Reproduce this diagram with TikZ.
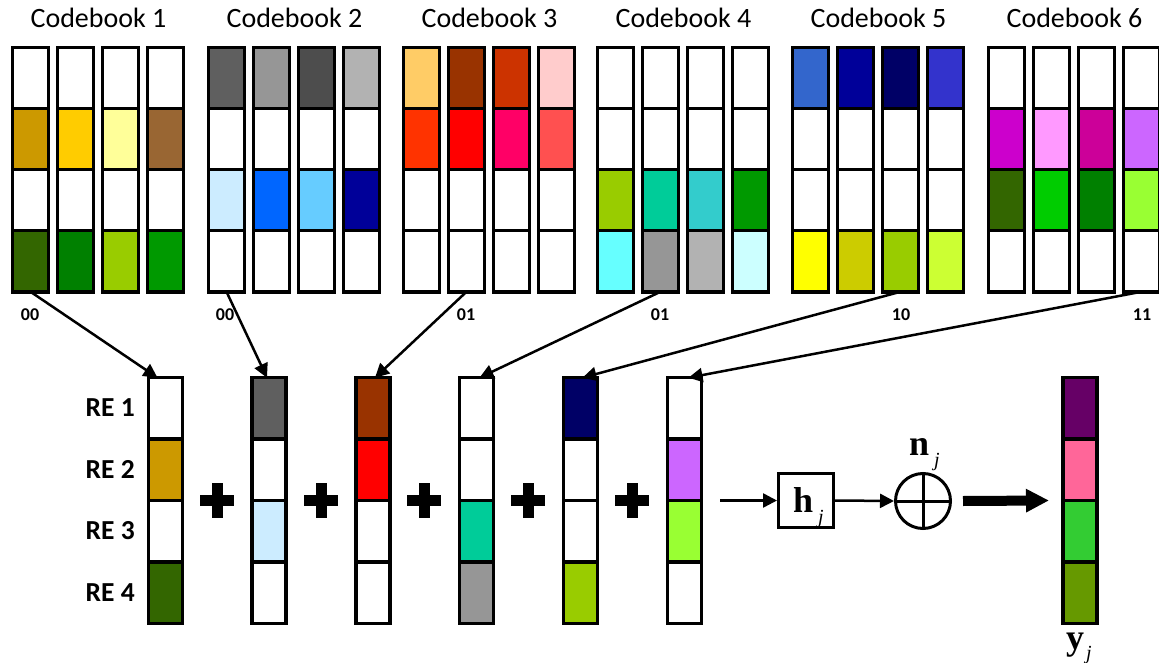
\documentclass[tikz,border=0pt]{standalone}
\usepackage{fontspec}
\setmainfont{Carlito}
\newfontfamily\tnr{Liberation Serif}
\usetikzlibrary{arrows.meta,calc}

\newcommand\drawcb[3]{%
  \foreach \h [count=\i from 0] in {#3}{%
    \pgfmathtruncatemacro\rowi{div(\i,4)+1}%
    \pgfmathtruncatemacro\coli{mod(\i,4)+1}%
    \edef\tmpdef{\noexpand\definecolor{cellc}{HTML}{\h}}\tmpdef
    \node[cell,fill=cellc] (cb#1-\coli-\rowi) at ({30.5+#2+45*(\coli-1)},{78.25+61*(\rowi-1)}) {};
  }%
}
\newcommand\drawcol[3]{%
  \foreach \h [count=\i] in {#3}{%
    \edef\tmpdef{\noexpand\definecolor{cellc}{HTML}{\h}}\tmpdef
    \node[lcell,fill=cellc] (#1-\i) at (#2,{408.4+61.4*(\i-1)}) {};
  }%
}

\begin{document}
\begin{tikzpicture}[x=1pt,y=-1pt,
  cell/.style={draw, line width=3.5pt, minimum width=36pt, minimum height=61pt, inner sep=0pt, outer sep=0pt},
  lcell/.style={cell, minimum width=34pt, minimum height=61.4pt},
  title/.style={font=\fontsize{28}{30}\selectfont, anchor=base, inner sep=0pt},
  bits/.style={font=\bfseries\fontsize{18}{20}\selectfont, anchor=base, inner sep=0pt},
  relab/.style={font=\bfseries\fontsize{27.5}{30}\selectfont, anchor=base east, inner sep=0pt},
  arr/.style={line width=2.5pt, -{Triangle[length=14pt,width=14pt]}},
  plus/.style={line width=11pt},
  bigsym/.style={font=\tnr\bfseries\fontsize{36}{36}\selectfont, anchor=base west, inner sep=0pt},
  subj/.style={font=\tnr\itshape\fontsize{20}{20}\selectfont, anchor=base west, inner sep=0pt},
]
\useasboundingbox (0,0) rectangle (1159,663);

% codebooks
\drawcb{1}{0}{FFFFFF,FFFFFF,FFFFFF,FFFFFF,CC9900,FFCC00,FFFF99,996633,FFFFFF,FFFFFF,FFFFFF,FFFFFF,336600,008000,99CC00,009900}
\drawcb{2}{196}{5F5F5F,969696,4D4D4D,B2B2B2,FFFFFF,FFFFFF,FFFFFF,FFFFFF,CCECFF,0066FF,66CCFF,000099,FFFFFF,FFFFFF,FFFFFF,FFFFFF}
\drawcb{3}{391}{FFCC66,993300,CC3300,FFCCCC,FF3300,FF0000,FF0066,FF5050,FFFFFF,FFFFFF,FFFFFF,FFFFFF,FFFFFF,FFFFFF,FFFFFF,FFFFFF}
\drawcb{4}{585}{FFFFFF,FFFFFF,FFFFFF,FFFFFF,FFFFFF,FFFFFF,FFFFFF,FFFFFF,99CC00,00CC99,33CCCC,009900,66FFFF,969696,B2B2B2,CCFFFF}
\drawcb{5}{780}{3366CC,000099,000066,3333CC,FFFFFF,FFFFFF,FFFFFF,FFFFFF,FFFFFF,FFFFFF,FFFFFF,FFFFFF,FFFF00,CCCC00,99CC00,CCFF33}
\drawcb{6}{976}{FFFFFF,FFFFFF,FFFFFF,FFFFFF,CC00CC,FF99FF,CC0099,CC66FF,336600,00CC00,008000,99FF33,FFFFFF,FFFFFF,FFFFFF,FFFFFF}

% titles
\foreach \k/\dx in {1/0,2/196,3/391,4/585,5/780,6/976}
  \node[title] (t\k) at ({98.5+\dx},28) {Codebook \k};

% bit labels
\node[bits] (b1) at (30,320) {00};
\node[bits] (b2) at (225,320) {00};
\node[bits] (b3) at (466,320) {01};
\node[bits] (b4) at (660,320) {01};
\node[bits] (b5) at (901,320) {10};
\node[bits] (b6) at (1142,320) {11};

% lower columns
\drawcol{l1}{165.5}{FFFFFF,CC9900,FFFFFF,336600}
\drawcol{l2}{269}{5F5F5F,FFFFFF,CCECFF,FFFFFF}
\drawcol{l3}{373}{993300,FF0000,FFFFFF,FFFFFF}
\drawcol{l4}{476.5}{FFFFFF,FFFFFF,00CC99,969696}
\drawcol{l5}{580.5}{000066,FFFFFF,FFFFFF,99CC00}
\drawcol{l6}{684.5}{FFFFFF,CC66FF,99FF33,FFFFFF}
\drawcol{f}{1080}{660066,FF6699,33CC33,669900}

% RE labels
\node[relab] (re1) at (135,416) {RE 1};
\node[relab] (re2) at (135,478) {RE 2};
\node[relab] (re3) at (135,539) {RE 3};
\node[relab] (re4) at (135,601) {RE 4};

% selection arrows
\draw[arr] (cb1-1-4.south) -- ([xshift=-8pt]l1-1.north);
\draw[arr] (cb2-1-4.south) -- ([xshift=-2pt]l2-1.north);
\draw[arr] (cb3-2-4.south) -- ([xshift=2pt]l3-1.north);
\draw[arr] (cb4-2-4.south) -- ([xshift=3pt]l4-1.north);
\draw[arr] (cb5-3-4.south) -- ([xshift=2pt]l5-1.north);
\draw[arr] (cb6-4-4.south) -- ([xshift=4pt]l6-1.north);

% plus signs
\foreach \px in {217,321,424,528,632}
  \draw[plus] ({\px-17},500.5) -- ({\px+17},500.5) (\px,483) -- (\px,518);

% channel box
\node[draw, line width=3pt, minimum width=55pt, minimum height=54pt, inner sep=0pt] (hbox) at (806,500.5) {};
\node[bigsym] (hl) at (793,512) {h};
\node[subj] (hj) at (818,523) {j};
\coordinate (hin) at (720,500.5);
\draw[arr] (hin) -- (hbox.west);

% noise adder
\node[draw, circle, line width=3pt, minimum size=55pt, inner sep=0pt] (sum) at (923,501) {};
\draw[line width=3pt] (sum.north) -- (sum.south) (sum.west) -- (sum.east);
\node[bigsym] (nl) at (909,455) {n};
\node[subj] (nj) at (934,466) {j};
\draw[arr] (hbox.east) -- (sum.west);

% output arrow
\draw[line width=10pt, -{Triangle[length=23pt,width=22pt]}] ([xshift=11pt]sum.east) -- ([xshift=-14pt]f-3.north west);

% y label
\node[bigsym] (yl) at (1066,649) {y};
\node[subj] (yj) at (1086,659) {j};
\end{tikzpicture}
\end{document}
